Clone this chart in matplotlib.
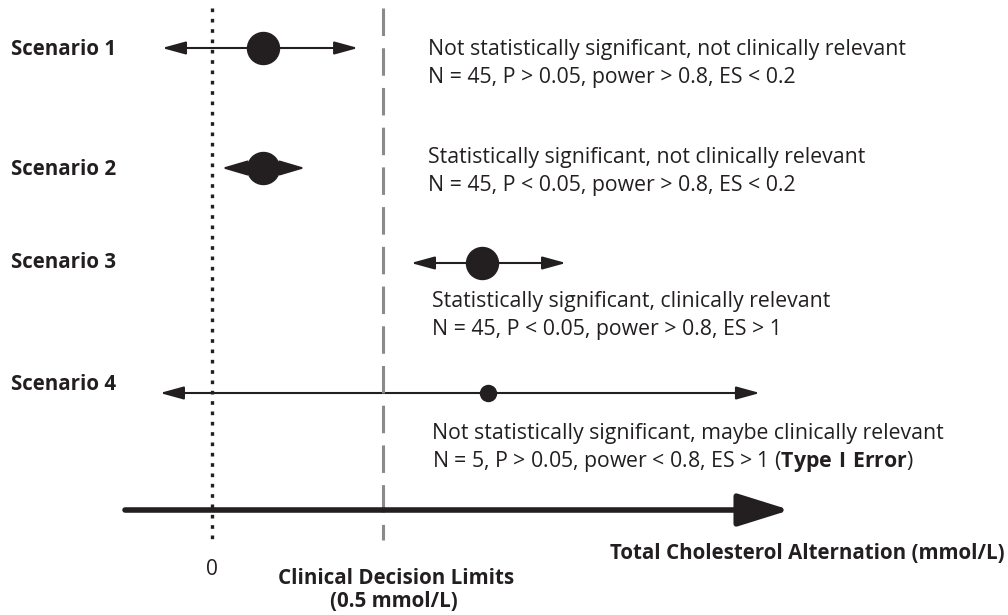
import matplotlib.pyplot as plt
from matplotlib.patches import FancyArrowPatch

plt.rcParams['font.family'] = ['Open Sans', 'DejaVu Sans']
plt.rcParams['mathtext.fontset'] = 'custom'
plt.rcParams['mathtext.rm'] = 'Open Sans'
plt.rcParams['mathtext.bf'] = 'Open Sans:bold'

# scenario data (mmol/L): point estimate and interval ends
scenarios = ['Scenario 1', 'Scenario 2', 'Scenario 3', 'Scenario 4']
estimate = [0.149, 0.149, 0.789, 0.807]
ci_low = [-0.146, 0.029, 0.582, -0.152]
ci_high = [0.427, 0.272, 1.035, 1.602]
line1 = ['Not statistically significant, not clinically relevant',
         'Statistically significant, not clinically relevant',
         'Statistically significant, clinically relevant',
         'Not statistically significant, maybe clinically relevant']
line2 = ['N = 45, P > 0.05, power > 0.8, ES < 0.2',
         'N = 45, P < 0.05, power > 0.8, ES < 0.2',
         'N = 45, P < 0.05, power > 0.8, ES > 1',
         r'N = 5, P > 0.05, power < 0.8, ES > 1 ($\mathbf{Type\ I\ Error}$)']
decision_limit = 0.5

# layout (pixel rows, baselines)
row_y = [48, 168, 263, 393]
label_y = [55, 175, 268, 390]
text_x = [428, 428, 432, 432]
text_y = [[55, 83], [163, 191], [307, 335], [439, 467]]
marker_px = [32, 32, 32, 16]
head = [(20, 5.5), (22, 6.5), (20, 5.5), (20, 5.5)]
ink = '#231f20'

px = 342.0  # pixels per mmol/L
x0 = 212.0  # pixel of zero


def xp(p):
    return (p - x0) / px


fig = plt.figure(figsize=(10.08, 6.15), dpi=100)
ax = fig.add_axes([0, 0, 1, 1])
ax.set_xlim(xp(0), xp(1008))
ax.set_ylim(615, 0)
ax.axis('off')

# reference lines
ax.plot([0, 0], [8, 545], color=ink, lw=2.4, ls=(0, (1.1, 2.0)))
ax.plot([decision_limit] * 2, [8, 540], color='#8a8a8a', lw=2.2, ls=(0, (9, 4)))

# x axis arrow
ax.annotate('', xy=(xp(790), 510), xytext=(xp(125), 510),
            arrowprops=dict(arrowstyle='-|>,head_length=3.2,head_width=1.0',
                            lw=4, color=ink, shrinkA=0, shrinkB=0))

for i in range(4):
    y = row_y[i]
    hl, hw = head[i]
    ar = FancyArrowPatch((ci_low[i], y), (ci_high[i], y),
                         arrowstyle=f'<|-|>,head_length={hl / 1.389 / 1.8:.2f},head_width={hw / 1.389 / 1.8:.2f}',
                         mutation_scale=1.8, lw=1.5, color=ink, shrinkA=0, shrinkB=0)
    ax.add_patch(ar)
    ax.plot(estimate[i], y, 'o', color=ink, ms=marker_px[i] / 1.389, zorder=5)
    ax.text(xp(11), label_y[i], scenarios[i], fontsize=14.8, fontweight='bold',
            va='baseline', ha='left', color=ink)
    ax.text(xp(text_x[i]), text_y[i][0], line1[i], fontsize=15.3, va='baseline', color=ink)
    ax.text(xp(text_x[i]), text_y[i][1], line2[i], fontsize=15.3, va='baseline', color=ink)

ax.text(0, 575, '0', fontsize=15, ha='center', va='baseline', color=ink)
ax.text(xp(396), 584, 'Clinical Decision Limits', fontsize=14.8, fontweight='bold',
        ha='center', va='baseline', color=ink)
ax.text(xp(394), 607, '(0.5 mmol/L)', fontsize=14.8, fontweight='bold',
        ha='center', va='baseline', color=ink)
ax.text(xp(1005), 559, 'Total Cholesterol Alternation (mmol/L)', fontsize=14.8,
        fontweight='bold', ha='right', va='baseline', color=ink)

fig.savefig('out.png', dpi=100)
